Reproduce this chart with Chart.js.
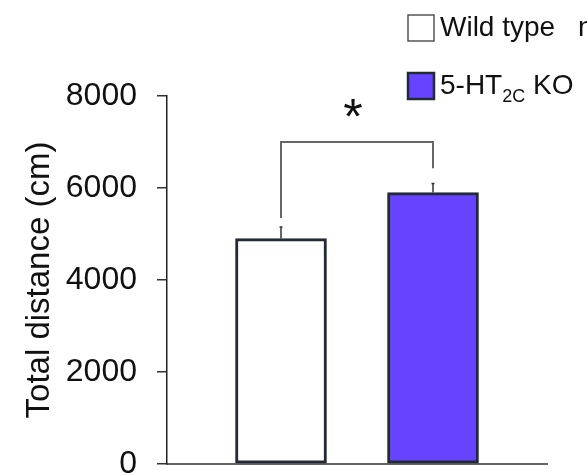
<!DOCTYPE html>
<html>
<head>
<meta charset="utf-8">
<script src="https://cdn.jsdelivr.net/npm/chart.js@4/dist/chart.umd.min.js"></script>
<style>
  html, body { margin: 0; padding: 0; background: #fff; }
  #wrap { width: 587px; height: 475px; }
</style>
</head>
<body>
<div id="wrap"><canvas id="chartCanvas"></canvas></div>
<script>
// groups (subscript written as _{..})
const categories = ['Wild type', '5-HT_{2C} KO'];
const xPos = [1, 2];
const meanDistance = [4900, 5900];
const semDistance = [250, 200];
const barColors = ['#ffffff', '#6644ff'];
const yTicks = [0, 2000, 4000, 6000, 8000];

// significance bracket between the two groups
const bracketTop = 7000;
const bracketEnds = [5350, 6430];
const starLevel = 7740;
const starText = '*';

const FONT = '"Liberation Sans", Arial, sans-serif';

function drawRich(ctx, label, x, y, size) {
    // draws "5-HT_{2C} KO" with subscript
    let parts = label.split(/(_\{[^}]*\})/);
    parts.forEach(p => {
        if (!p) return;
        if (p.startsWith('_{')) {
            let t = p.slice(2, -1);
            ctx.font = Math.round(size * 0.66) + 'px ' + FONT;
            ctx.fillText(t, x, y + size * 0.3);
            x += ctx.measureText(t).width;
        } else {
            ctx.font = size + 'px ' + FONT;
            ctx.fillText(p, x, y);
            x += ctx.measureText(p).width;
        }
    });
}

const extras = {
    id: 'extras',
    afterDatasetsDraw(chart) {
        const ctx = chart.ctx;
        const xs = chart.scales.x, ys = chart.scales.y;
        ctx.save();

        // error bars (upper only)
        ctx.strokeStyle = '#333';
        ctx.lineWidth = 1.5;
        meanDistance.forEach((m, i) => {
            let px = xs.getPixelForValue(xPos[i]);
            let y0 = ys.getPixelForValue(m);
            let y1 = ys.getPixelForValue(m + semDistance[i]);
            ctx.beginPath();
            ctx.moveTo(px, y0);
            ctx.lineTo(px, y1);
            ctx.moveTo(px - 1.5, y1);
            ctx.lineTo(px + 1.5, y1);
            ctx.stroke();
        });

        // bracket
        let xl = xs.getPixelForValue(xPos[0]);
        let xr = xs.getPixelForValue(xPos[1]);
        ctx.strokeStyle = '#666';
        ctx.lineWidth = 2;
        ctx.beginPath();
        ctx.moveTo(xl, ys.getPixelForValue(bracketEnds[0]));
        ctx.lineTo(xl, ys.getPixelForValue(bracketTop));
        ctx.lineTo(xr, ys.getPixelForValue(bracketTop));
        ctx.lineTo(xr, ys.getPixelForValue(bracketEnds[1]));
        ctx.stroke();

        // star
        ctx.fillStyle = '#111';
        ctx.font = '50px ' + FONT;
        ctx.textAlign = 'center';
        ctx.textBaseline = 'alphabetic';
        let mt = ctx.measureText(starText);
        let cy = ys.getPixelForValue(starLevel);
        let off = (mt.actualBoundingBoxAscent - mt.actualBoundingBoxDescent) / 2;
        ctx.fillText(starText, (xl + xr) / 2 - 4, cy + off);

        // legend
        ctx.textAlign = 'left';
        ctx.textBaseline = 'alphabetic';
        const lx = 408, ly = [15, 73], box = 26, fs = 28;
        categories.forEach((c, i) => {
            ctx.fillStyle = barColors[i];
            ctx.fillRect(lx, ly[i], box, box);
            ctx.strokeStyle = i === 0 ? '#555' : '#222b35';
            ctx.lineWidth = i === 0 ? 1.5 : 2.5;
            ctx.strokeRect(lx, ly[i], box, box);
            ctx.fillStyle = '#111';
            drawRich(ctx, c, lx + box + 6, ly[i] + 21, fs);
        });
        ctx.font = fs + 'px ' + FONT;
        ctx.fillText('n', 578, ly[0] + 21);

        ctx.restore();
    }
};

new Chart(document.getElementById('chartCanvas'), {
    type: 'bar',
    data: {
        datasets: [{
            data: meanDistance.map((v, i) => ({ x: xPos[i], y: v })),
            backgroundColor: barColors,
            borderColor: '#222b35',
            borderWidth: 3,
            borderSkipped: false,
            barThickness: 91
        }]
    },
    options: {
        responsive: true,
        maintainAspectRatio: false,
        animation: false,
        layout: { padding: { left: 0, right: 40, top: 96, bottom: 11 } },
        plugins: {
            legend: { display: false },
            tooltip: { enabled: false }
        },
        scales: {
            x: {
                type: 'linear',
                offset: false,
                min: 0.25,
                max: 2.75,
                afterFit: (s) => { s.height = 0; s.paddingLeft = 0; s.paddingRight = 0; },
                ticks: { display: false },
                grid: { display: false },
                border: { display: true, color: '#666', width: 2 }
            },
            y: {
                min: 0,
                max: 8000,
                afterBuildTicks: (s) => { s.ticks = yTicks.map(v => ({ value: v })); },
                afterFit: (s) => { s.width = 167; s.paddingTop = 0; s.paddingBottom = 0; },
                ticks: {
                    color: '#111',
                    padding: 20,
                    font: { family: FONT, size: 32 },
                    callback: (v) => String(v)
                },
                grid: {
                    drawOnChartArea: false,
                    drawTicks: true,
                    tickLength: 10,
                    color: '#333',
                    lineWidth: 1.5
                },
                border: { display: true, color: '#222', width: 1.5 },
                title: {
                    display: true,
                    text: 'Total distance (cm)',
                    color: '#111',
                    font: { family: FONT, size: 33 },
                    padding: { top: 20, bottom: 0 }
                }
            }
        }
    },
    plugins: [extras]
});
</script>
</body>
</html>
